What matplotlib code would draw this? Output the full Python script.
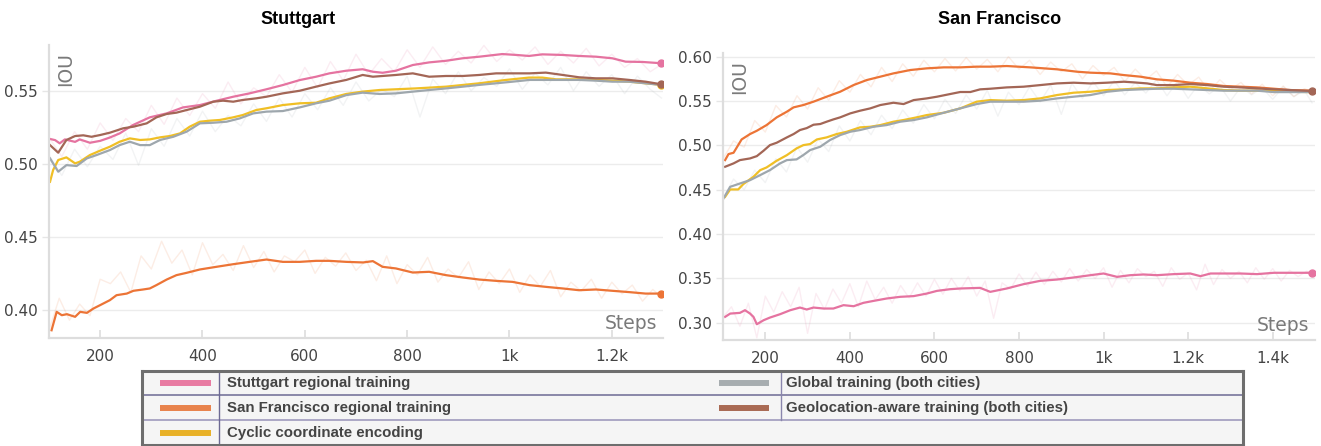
import matplotlib
matplotlib.use("Agg")
import matplotlib.pyplot as plt
import numpy as np
from matplotlib.lines import Line2D

# ---- Stuttgart validation IOU (smoothed) ----
stg_pink_x = [102, 112, 121, 131, 151, 160, 180, 200, 219, 238, 264, 297, 330, 362, 395, 427, 460, 492, 525, 557, 590, 622, 648,
              681, 713, 733, 752, 778, 811, 843, 876, 908, 941, 986, 1013, 1038, 1064, 1103, 1136, 1169, 1201, 1227, 1260, 1297]
stg_pink_y = [0.517, 0.5162, 0.514, 0.5167, 0.515, 0.5167, 0.5144, 0.5157, 0.518, 0.5208, 0.5265, 0.5318, 0.5345, 0.5386, 0.5402,
              0.5431, 0.5459, 0.5482, 0.551, 0.5539, 0.5573, 0.5596, 0.5619, 0.5637, 0.5647, 0.563, 0.5623, 0.5637, 0.5676, 0.5694,
              0.5705, 0.5722, 0.5733, 0.5751, 0.5745, 0.5738, 0.5749, 0.5745, 0.5738, 0.5733, 0.5722, 0.5699, 0.5697, 0.5688]

stg_orange_x = [105, 115, 125, 135, 151, 161, 174, 187, 200, 219, 232, 252, 265, 284, 297, 310, 330, 349, 369, 395, 427, 460, 492,
                525, 557, 590, 622, 648, 681, 714, 733, 752, 778, 811, 843, 876, 909, 941, 974, 1006, 1039, 1071, 1104, 1136,
                1169, 1201, 1234, 1266, 1297]
stg_orange_y = [0.3861, 0.3987, 0.3964, 0.3971, 0.3953, 0.3987, 0.398, 0.401, 0.4033, 0.4067, 0.4101, 0.4112, 0.4131, 0.414,
                0.4147, 0.417, 0.4208, 0.4238, 0.4254, 0.4277, 0.4295, 0.4313, 0.4329, 0.4345, 0.4329, 0.4329, 0.4336, 0.4336,
                0.4329, 0.4325, 0.4334, 0.4295, 0.4284, 0.4256, 0.4261, 0.4238, 0.4222, 0.4208, 0.4199, 0.4192, 0.417, 0.4158,
                0.4147, 0.4135, 0.414, 0.4131, 0.4122, 0.4112, 0.4112]

stg_yellow_x = [102, 108, 118, 134, 151, 160, 180, 200, 219, 238, 258, 278, 297, 317, 336, 356, 375, 395, 414, 434, 460, 479, 505,
                525, 557, 590, 622, 648, 681, 713, 746, 778, 817, 876, 941, 993, 1038, 1064, 1091, 1136, 1169, 1201, 1234, 1266, 1297]
stg_yellow_y = [0.4877, 0.4957, 0.5026, 0.5044, 0.5003, 0.5014, 0.506, 0.509, 0.5117, 0.5151, 0.5174, 0.5163, 0.5167, 0.5181,
                0.519, 0.5208, 0.5254, 0.5288, 0.5295, 0.53, 0.5318, 0.5334, 0.5368, 0.538, 0.5402, 0.5414, 0.5418, 0.5448,
                0.5478, 0.5494, 0.5505, 0.551, 0.5516, 0.5528, 0.5551, 0.5574, 0.559, 0.559, 0.5578, 0.5578, 0.5574, 0.5569,
                0.5562, 0.5551, 0.554]

stg_gray_x = [102, 118, 134, 154, 174, 193, 219, 238, 258, 278, 297, 317, 343, 369, 395, 421, 447, 473, 499, 525, 557, 590, 622,
              648, 681, 713, 746, 778, 811, 843, 876, 909, 941, 974, 1006, 1039, 1071, 1104, 1136, 1169, 1201, 1234, 1266, 1297]
stg_gray_y = [0.5037, 0.4946, 0.4991, 0.4985, 0.5037, 0.506, 0.5094, 0.5128, 0.5151, 0.5128, 0.5128, 0.5163, 0.5185, 0.522,
              0.5277, 0.5281, 0.5288, 0.5311, 0.5345, 0.5357, 0.5361, 0.5386, 0.5414, 0.5432, 0.547, 0.5487, 0.5478, 0.5482,
              0.5494, 0.5505, 0.5516, 0.5528, 0.554, 0.5551, 0.5562, 0.5574, 0.5574, 0.5574, 0.5574, 0.5569, 0.5562, 0.5562,
              0.5551, 0.554]

stg_brown_x = [102, 118, 134, 151, 167, 183, 200, 219, 245, 265, 291, 310, 330, 349, 369, 395, 421, 440, 460, 479, 505, 525, 557,
               590, 622, 648, 681, 713, 733, 752, 778, 811, 843, 876, 909, 941, 974, 1006, 1039, 1071, 1104, 1136, 1169, 1201,
               1234, 1266, 1297]
stg_brown_y = [0.5128, 0.5076, 0.5163, 0.519, 0.5195, 0.5185, 0.5197, 0.5213, 0.5243, 0.5254, 0.5277, 0.5318, 0.5341, 0.535,
               0.5368, 0.5391, 0.5425, 0.5432, 0.5425, 0.5437, 0.5448, 0.5459, 0.5482, 0.55, 0.5528, 0.555, 0.5574, 0.5608,
               0.5596, 0.5601, 0.5608, 0.5619, 0.5596, 0.5601, 0.5601, 0.5608, 0.5619, 0.5619, 0.5619, 0.5624, 0.5608, 0.5592,
               0.5585, 0.5585, 0.5574, 0.5562, 0.5544]

# ---- Stuttgart raw (unsmoothed) IOU, faint in the background ----
stg_raw_x20 = list(range(100, 1300, 20)) + [1297]
stg_orange_raw = [0.386, 0.408, 0.393, 0.404, 0.396, 0.421, 0.418, 0.426, 0.412, 0.437, 0.428, 0.447, 0.432, 0.441, 0.424,
                  0.446, 0.431, 0.438, 0.427, 0.444, 0.429, 0.440, 0.426, 0.437, 0.433, 0.441, 0.425, 0.436, 0.430, 0.439,
                  0.427, 0.434, 0.420, 0.437, 0.418, 0.431, 0.424, 0.436, 0.419, 0.428, 0.422, 0.433, 0.414, 0.426, 0.418,
                  0.428, 0.412, 0.424, 0.416, 0.427, 0.409, 0.419, 0.413, 0.421, 0.408, 0.419, 0.411, 0.417, 0.406, 0.414, 0.409]
stg_raw_x25 = list(range(100, 1300, 25)) + [1297]
stg_pink_raw = [0.518, 0.505, 0.522, 0.510, 0.528, 0.516, 0.531, 0.522, 0.540, 0.527, 0.545, 0.533, 0.548, 0.538, 0.556,
                0.541, 0.552, 0.546, 0.561, 0.549, 0.566, 0.552, 0.570, 0.557, 0.575, 0.561, 0.572, 0.563, 0.578, 0.566,
                0.580, 0.568, 0.577, 0.569, 0.581, 0.570, 0.578, 0.571, 0.580, 0.568, 0.577, 0.569, 0.579, 0.567, 0.575,
                0.566, 0.572, 0.563, 0.568]
stg_gray_raw = [0.506, 0.492, 0.510, 0.498, 0.512, 0.503, 0.521, 0.499, 0.524, 0.512, 0.531, 0.519, 0.536, 0.522, 0.533,
                0.526, 0.541, 0.529, 0.545, 0.532, 0.548, 0.537, 0.552, 0.540, 0.556, 0.543, 0.551, 0.546, 0.560, 0.532,
                0.558, 0.548, 0.563, 0.550, 0.559, 0.553, 0.565, 0.551, 0.562, 0.554, 0.566, 0.550, 0.563, 0.553, 0.561,
                0.548, 0.560, 0.551, 0.545]

# ---- San Francisco validation IOU (smoothed) ----
sf_pink_x = [105, 117, 140, 152, 164, 172, 180, 196, 211, 235, 259, 282, 298, 314, 338, 361, 385, 409, 432, 456, 487, 519, 551,
             582, 606, 637, 661, 708, 732, 771, 811, 850, 890, 929, 969, 1000, 1032, 1063, 1095, 1126, 1166, 1205, 1229, 1253,
             1284, 1324, 1363, 1403, 1442, 1493]
sf_pink_y = [0.3066, 0.3103, 0.3111, 0.3141, 0.3103, 0.3066, 0.2983, 0.3028, 0.3058, 0.3096, 0.3141, 0.3171, 0.3149, 0.3171,
             0.316, 0.316, 0.3198, 0.3186, 0.3224, 0.3246, 0.3273, 0.3292, 0.33, 0.3329, 0.3359, 0.3378, 0.3386, 0.3393,
             0.3348, 0.3386, 0.3435, 0.3472, 0.3487, 0.351, 0.3536, 0.3555, 0.3517, 0.3536, 0.3544, 0.3536, 0.3548, 0.3555,
             0.3525, 0.3555, 0.3555, 0.3555, 0.3548, 0.3563, 0.3563, 0.3563]

sf_orange_x = [105, 113, 125, 144, 164, 180, 203, 227, 251, 267, 290, 314, 345, 377, 409, 440, 472, 503, 543, 582, 622, 661, 700,
               732, 771, 827, 890, 937, 969, 1016, 1048, 1087, 1126, 1166, 1205, 1245, 1284, 1324, 1363, 1403, 1442, 1493]
sf_orange_y = [0.4834, 0.4902, 0.4917, 0.5067, 0.5128, 0.5165, 0.5229, 0.5316, 0.538, 0.5429, 0.5455, 0.5493, 0.5549, 0.5605,
               0.5681, 0.5737, 0.5775, 0.5812, 0.585, 0.5869, 0.588, 0.588, 0.5888, 0.5888, 0.5895, 0.588, 0.5858, 0.5831,
               0.582, 0.5812, 0.5793, 0.5775, 0.5745, 0.573, 0.5707, 0.5692, 0.567, 0.5662, 0.5654, 0.5639, 0.5624, 0.5617]

sf_yellow_x = [105, 117, 136, 148, 172, 188, 203, 227, 251, 274, 290, 306, 322, 345, 369, 393, 424, 448, 472, 503, 527, 558, 582,
               622, 661, 700, 732, 771, 811, 850, 890, 929, 969, 1008, 1048, 1087, 1126, 1166, 1205, 1245, 1284, 1324, 1363,
               1403, 1442, 1493]
sf_yellow_y = [0.442, 0.4503, 0.4503, 0.4563, 0.4646, 0.4721, 0.4751, 0.4827, 0.489, 0.4966, 0.5003, 0.5015, 0.5067, 0.509,
               0.5128, 0.5154, 0.5203, 0.521, 0.5229, 0.5267, 0.5286, 0.5316, 0.5342, 0.5368, 0.5417, 0.5493, 0.5511, 0.5504,
               0.5511, 0.553, 0.5568, 0.5594, 0.5605, 0.5624, 0.5632, 0.5643, 0.5643, 0.5654, 0.5662, 0.5643, 0.5624, 0.5617,
               0.5617, 0.5613, 0.5605, 0.5601]

sf_gray_x = [101, 117, 140, 164, 188, 211, 235, 251, 274, 290, 306, 330, 353, 377, 401, 424, 456, 487, 519, 551, 582, 622, 661,
             700, 732, 771, 811, 850, 890, 929, 969, 1008, 1048, 1087, 1126, 1166, 1205, 1245, 1284, 1324, 1363, 1403, 1442, 1493]
sf_gray_y = [0.44, 0.4533, 0.457, 0.4608, 0.4665, 0.4721, 0.4797, 0.4834, 0.4842, 0.4891, 0.4947, 0.4985, 0.506, 0.5116,
             0.5154, 0.5173, 0.521, 0.5229, 0.5267, 0.5286, 0.5316, 0.5368, 0.5417, 0.5466, 0.5493, 0.5493, 0.5493, 0.5504,
             0.553, 0.5549, 0.5568, 0.5605, 0.5624, 0.5632, 0.5639, 0.5639, 0.5632, 0.5624, 0.5617, 0.5617, 0.5617, 0.5601,
             0.5601, 0.5601]

sf_brown_x = [105, 125, 140, 164, 180, 196, 211, 227, 251, 267, 282, 298, 314, 330, 345, 361, 377, 401, 424, 448, 472, 503, 527,
              551, 582, 606, 637, 661, 685, 708, 732, 771, 811, 850, 890, 929, 969, 1008, 1048, 1071, 1103, 1126, 1166, 1205,
              1245, 1284, 1324, 1363, 1403, 1442, 1493]
sf_brown_y = [0.4759, 0.4797, 0.4834, 0.4853, 0.4879, 0.494, 0.5003, 0.503, 0.509, 0.5128, 0.5173, 0.5195, 0.5233, 0.5241,
              0.5267, 0.5293, 0.5316, 0.5361, 0.5391, 0.5417, 0.5455, 0.5481, 0.5466, 0.5511, 0.553, 0.5549, 0.5579, 0.5602,
              0.5602, 0.5632, 0.5639, 0.5654, 0.5662, 0.568, 0.5699, 0.5707, 0.5699, 0.5707, 0.5718, 0.5711, 0.5699, 0.568,
              0.568, 0.5692, 0.568, 0.5662, 0.5654, 0.5643, 0.5632, 0.5624, 0.5613]

# ---- San Francisco raw (unsmoothed) IOU ----
sf_raw_x20 = list(range(100, 1500, 20)) + [1493]
sf_pink_raw = [0.306, 0.318, 0.296, 0.322, 0.283, 0.330, 0.312, 0.335, 0.318, 0.340, 0.288, 0.333, 0.315, 0.338, 0.322,
               0.344, 0.318, 0.347, 0.326, 0.340, 0.322, 0.342, 0.328, 0.345, 0.330, 0.349, 0.332, 0.350, 0.336, 0.352,
               0.330, 0.347, 0.305, 0.345, 0.338, 0.355, 0.341, 0.357, 0.343, 0.358, 0.346, 0.361, 0.347, 0.360, 0.350,
               0.362, 0.340, 0.359, 0.345, 0.361, 0.352, 0.358, 0.341, 0.362, 0.349, 0.356, 0.337, 0.366, 0.343, 0.360,
               0.350, 0.358, 0.345, 0.362, 0.349, 0.361, 0.347, 0.359, 0.352, 0.358, 0.356]
sf_raw_x25 = list(range(100, 1500, 25)) + [1493]
sf_orange_raw = [0.485, 0.505, 0.498, 0.528, 0.515, 0.545, 0.532, 0.556, 0.541, 0.565, 0.551, 0.573, 0.560, 0.580, 0.566,
                 0.588, 0.572, 0.592, 0.578, 0.596, 0.583, 0.598, 0.584, 0.599, 0.586, 0.597, 0.583, 0.600, 0.586, 0.596,
                 0.580, 0.594, 0.583, 0.592, 0.575, 0.590, 0.579, 0.588, 0.572, 0.586, 0.574, 0.584, 0.566, 0.580, 0.568,
                 0.577, 0.561, 0.574, 0.563, 0.571, 0.558, 0.569, 0.556, 0.567, 0.555, 0.564, 0.560]
sf_gray_raw = [0.440, 0.462, 0.450, 0.472, 0.458, 0.485, 0.470, 0.498, 0.481, 0.507, 0.493, 0.522, 0.505, 0.528, 0.512,
               0.534, 0.519, 0.540, 0.525, 0.546, 0.530, 0.552, 0.536, 0.557, 0.541, 0.562, 0.533, 0.560, 0.546, 0.566,
               0.549, 0.568, 0.535, 0.570, 0.553, 0.572, 0.556, 0.573, 0.557, 0.571, 0.559, 0.574, 0.556, 0.572, 0.553,
               0.569, 0.558, 0.567, 0.550, 0.566, 0.557, 0.565, 0.552, 0.566, 0.555, 0.562, 0.548]

series_names = ["Stuttgart regional training", "San Francisco regional training", "Cyclic coordinate encoding",
                "Global training (both cities)", "Geolocation-aware training (both cities)"]
line_colors = ["#e573a0", "#ec7436", "#f0bf25", "#9ea7ad", "#a36656"]
legend_colors = ["#e87ba2", "#e8834c", "#e8b128", "#a7adb0", "#a96a54"]

stg_ticks = [200, 400, 600, 800, 1000, 1200]
stg_ticklabels = ["200", "400", "600", "800", "1k", "1.2k"]
sf_ticks = [200, 400, 600, 800, 1000, 1200, 1400]
sf_ticklabels = ["200", "400", "600", "800", "1k", "1.2k", "1.4k"]
stg_yticks = [0.40, 0.45, 0.50, 0.55]
sf_yticks = [0.30, 0.35, 0.40, 0.45, 0.50, 0.55, 0.60]

W, H = 1321, 446
fig = plt.figure(figsize=(W / 100, H / 100), dpi=100)
fig.patch.set_facecolor("white")


def px_axes(x0, y0, x1, y1):
    return fig.add_axes([x0 / W, 1 - y1 / H, (x1 - x0) / W, (y1 - y0) / H])


def style(ax, xlim, ylim, xt, xtl, yt):
    ax.set_xlim(*xlim)
    ax.set_ylim(*ylim)
    ax.set_xticks(xt)
    ax.set_xticklabels(xtl)
    ax.set_yticks(yt)
    ax.set_yticklabels([f"{v:.2f}" for v in yt])
    for s in ["top", "right"]:
        ax.spines[s].set_visible(False)
    for s in ["left", "bottom"]:
        ax.spines[s].set_color("#dddddd")
        ax.spines[s].set_linewidth(1.6)
    ax.grid(axis="y", color="#ececec", linewidth=1.0)
    ax.set_axisbelow(True)
    ax.tick_params(axis="x", direction="in", length=6, color="#dddddd", width=1.2,
                   labelsize=11, labelcolor="#444444", pad=8)
    ax.tick_params(axis="y", direction="out", length=5, color="#e6e6e6", width=1.0,
                   labelsize=11, labelcolor="#444444", pad=3)
    ax.text(0.012, 0.975, "IOU", transform=ax.transAxes, rotation=90, ha="left", va="top",
            fontsize=13.5, color="#7a7a7a")
    ax.text(0.99, 0.018, "Steps", transform=ax.transAxes, ha="right", va="bottom",
            fontsize=13.5, color="#7a7a7a")


def draw_raw(ax, xs, ys, colors):
    for x, y, c in zip(xs, ys, colors):
        ax.plot(x, y, color=c, linewidth=1.0, alpha=0.13, clip_on=False)


def draw(ax, xs, ys, dots):
    for x, y, c, d in zip(xs, ys, line_colors, dots):
        ax.plot(x, y, color=c, linewidth=1.6, solid_joinstyle="round")
        if d:
            ax.plot(x[-1], y[-1], "o", color=c, markersize=5)


ax1 = px_axes(49, 45, 663, 338)
style(ax1, (100, 1300), (0.3808, 0.5813), stg_ticks, stg_ticklabels, stg_yticks)
draw_raw(ax1, [stg_raw_x20, stg_raw_x25, stg_raw_x25], [stg_orange_raw, stg_pink_raw, stg_gray_raw],
         [line_colors[1], line_colors[0], line_colors[3]])
draw(ax1,
     [stg_pink_x, stg_orange_x, stg_yellow_x, stg_gray_x, stg_brown_x],
     [stg_pink_y, stg_orange_y, stg_yellow_y, stg_gray_y, stg_brown_y],
     [True, True, True, False, True])
fig.text(298 / W, 1 - 19 / H, "Stuttgart", ha="center", va="center", fontsize=13,
         fontweight="bold", family="Liberation Sans")

ax2 = px_axes(723, 53, 1315, 340)
style(ax2, (100, 1500), (0.2805, 0.6042), sf_ticks, sf_ticklabels, sf_yticks)
draw_raw(ax2, [sf_raw_x20, sf_raw_x25, sf_raw_x25], [sf_pink_raw, sf_orange_raw, sf_gray_raw],
         [line_colors[0], line_colors[1], line_colors[3]])
draw(ax2,
     [sf_pink_x, sf_orange_x, sf_yellow_x, sf_gray_x, sf_brown_x],
     [sf_pink_y, sf_orange_y, sf_yellow_y, sf_gray_y, sf_brown_y],
     [True, False, False, False, True])
fig.text(1000 / W, 1 - 19 / H, "San Francisco", ha="center", va="center", fontsize=13,
         fontweight="bold", family="Liberation Sans")

# legend drawn as a bordered table below both panels
lg = px_axes(142, 371, 1243, 445)
lg.set_xlim(142, 1243)
lg.set_ylim(445, 371)
lg.set_xticks([])
lg.set_yticks([])
lg.set_facecolor("#f5f5f5")
for s in lg.spines.values():
    s.set_color("#6e6e6e")
    s.set_linewidth(2.2)
row_lines = [395.5, 420.5]
for yl, c in zip(row_lines, ["#6d6a94", "#9893b8"]):
    lg.axhline(yl, color=c, linewidth=1.1)
lg.plot([219, 219], [371, 445], color="#6d6a94", linewidth=1.0)
lg.plot([781, 781], [371, 420.5], color="#8a86ad", linewidth=1.0)
rows = [383, 408, 433]
slots = [(160, 211, 227, 0), (160, 211, 227, 1), (160, 211, 227, 2), (719, 769, 786, 0), (719, 769, 786, 1)]
for (a, b, tx, r), name, c in zip(slots, series_names, legend_colors):
    lg.add_line(Line2D([a, b], [rows[r], rows[r]], color=c, linewidth=4.3, solid_capstyle="butt"))
    lg.text(tx, rows[r], name, ha="left", va="center", fontsize=10.8, fontweight="bold",
            family="Liberation Sans", color="#444444")

fig.savefig("out.png", dpi=100)
